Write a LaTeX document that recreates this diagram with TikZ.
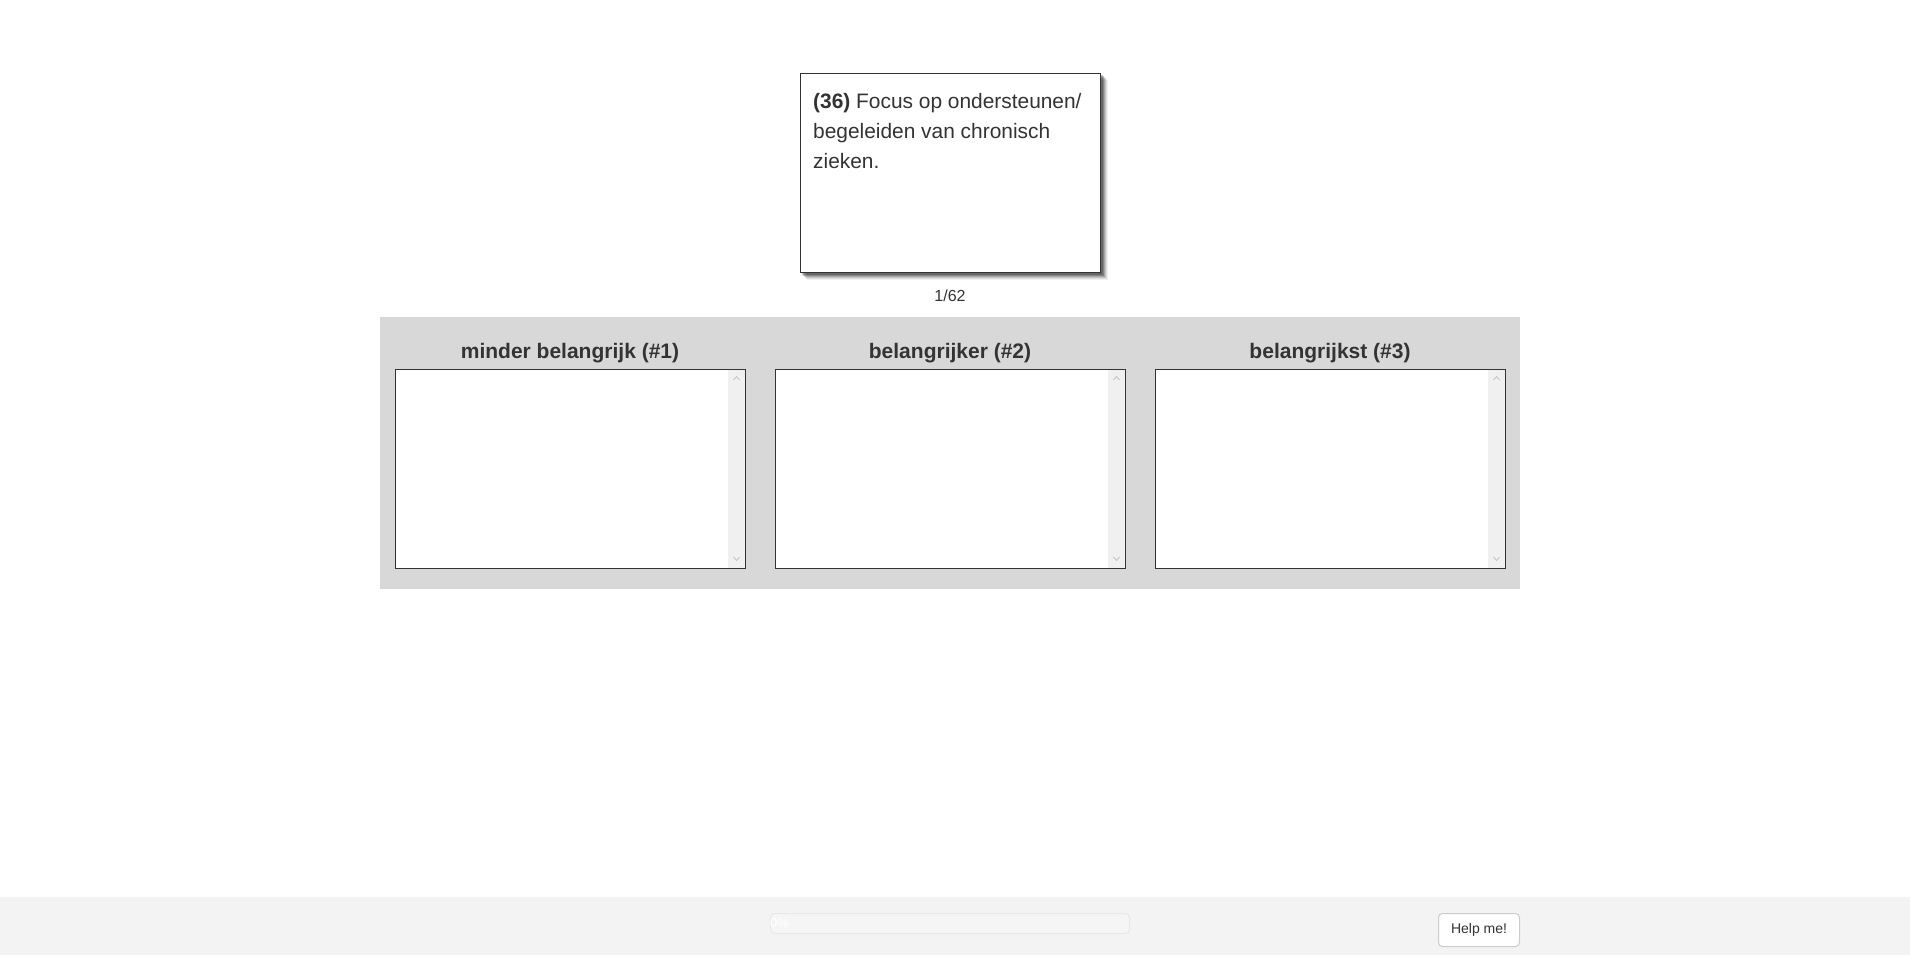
\documentclass[tikz,border=0pt]{standalone}
\usepackage{fontspec}
\setmainfont{Liberation Sans}
\definecolor{txt}{HTML}{333333}
\definecolor{panel}{HTML}{D8D8D8}
\definecolor{footer}{HTML}{F3F3F3}
\definecolor{track}{HTML}{F0F0F0}
\definecolor{arrowgray}{HTML}{C2C2C2}
\definecolor{btnborder}{HTML}{CCCCCC}
\begin{document}
\begin{tikzpicture}[x=1pt,y=-1pt,
  dropbox/.style={draw=txt,line width=1.2pt,fill=white},
  coltitle/.style={font=\fontsize{21}{24}\selectfont\bfseries,text=txt,anchor=base},
  chev/.style={draw=arrowgray,line width=0.8pt}]
\useasboundingbox (0,0) rectangle (1910,955);
\fill[white] (0,0) rectangle (1910,955);
% card shadow (soft)
\foreach \o/\a in {8/0.06,7/0.08,6/0.11,5/0.15,4/0.2,3/0.22}{
  \fill[black,opacity=\a] (800+\o-1,73+\o-1) rectangle (1100+\o,272+\o);
}
\node[draw=txt,line width=1.2pt,fill=white,minimum width=300pt,minimum height=199pt,anchor=north west,inner sep=0pt] (card) at (800,73) {};
\node[anchor=north west,align=left,text=txt,font=\fontsize{20.9}{30}\selectfont,inner sep=0pt] (cardtext) at (813,93)
  {\textbf{(36)} Focus op ondersteunen/\\begeleiden van chronisch\\zieken.};
\node[anchor=base,text=txt,font=\fontsize{16}{18}\selectfont,inner sep=0pt] (count) at (950,301) {1/62};
% panel
\fill[panel] (380,317) rectangle (1520,589);
\node[inner sep=0pt,minimum width=1140pt,minimum height=272pt,anchor=north west] (panelnode) at (380,317) {};
% columns
\foreach \i/\x/\t in {1/395/minder belangrijk (\#1),2/775/belangrijker (\#2),3/1155/belangrijkst (\#3)}{
  \node[coltitle] (title\i) at (\x+175,358) {\t};
  \fill[white] (\x,369) rectangle (\x+350,568);
  \fill[track] (\x+333,369) rectangle (\x+350,568);
  \node[dropbox,fill=none,anchor=north west,minimum width=350pt,minimum height=199pt,inner sep=0pt] (box\i) at (\x,369) {};
  \draw[chev] (\x+338.5,380) -- (\x+341.5,376.5) -- (\x+344.5,380);
  \draw[chev] (\x+338.5,557) -- (\x+341.5,560.5) -- (\x+344.5,557);
}
% footer
\fill[footer] (0,897) rectangle (1910,955);
\node[draw=black!9,fill=black!4,rounded corners=4pt,line width=1pt,minimum width=359pt,minimum height=20pt,anchor=north west,inner sep=0pt] (progress) at (770,913) {};
\node[anchor=west,text=white,font=\fontsize{13}{15}\selectfont,inner sep=0pt] (pct) at (770,923) {0\%};
\node[draw=btnborder,fill=white,rounded corners=4pt,line width=1pt,minimum width=81pt,minimum height=33pt,anchor=north west,inner sep=0pt] (help) at (1438,913) {};
\node[text=txt,font=\fontsize{14}{16}\selectfont,inner sep=0pt] (helptext) at (help.center) {Help me!};
\end{tikzpicture}
\end{document}
